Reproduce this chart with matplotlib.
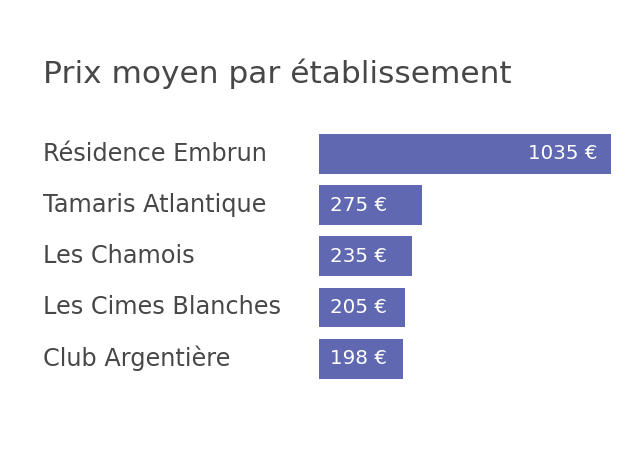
import matplotlib
matplotlib.use("Agg")
import matplotlib.pyplot as plt
import matplotlib.transforms as mtransforms

names = ["Résidence Embrun", "Tamaris Atlantique", "Les Chamois",
         "Les Cimes Blanches", "Club Argentière"]
prices = [1035, 275, 235, 205, 198]
value_labels = ["1035 €", "275 €", "235 €", "205 €", "198 €"]

title = "Prix moyen par établissement"
bar_color = "#5f68b1"
text_color = "#474747"

plt.rcParams["font.family"] = ["DejaVu Sans"]

fig = plt.figure(figsize=(6.37, 4.54), dpi=100)
ax = fig.add_axes([319 / 637, 1 - 384.3 / 454, 292 / 637, 256 / 454])

# axis origin left of zero, as in the source chart
x0 = -140
ypos = list(range(len(prices)))
ax.barh(ypos, [p - x0 for p in prices], left=x0, height=0.78,
        color=bar_color)
ax.set_xlim(x0, max(prices))
ax.set_ylim(len(prices) - 0.5, -0.5)
ax.axis("off")

lab_tr = mtransforms.blended_transform_factory(fig.transFigure, ax.transData)
for y, name in zip(ypos, names):
    ax.text(43 / 637, y, name, transform=lab_tr, ha="left", va="center",
            fontsize=17.3, color=text_color)

px = 292 / (max(prices) - x0)
for y, p, lab in zip(ypos, prices, value_labels):
    if p > 600:
        ax.text(p - 14 / px, y, lab, ha="right", va="center",
                fontsize=14.3, color="white")
    else:
        ax.text(x0 + 11 / px, y, lab, ha="left", va="center",
                fontsize=14.3, color="white")

fig.text(43 / 637, 1 - 74 / 454, title, ha="left", va="center",
         fontsize=22.5, color=text_color)

fig.savefig("out.png", dpi=100)
